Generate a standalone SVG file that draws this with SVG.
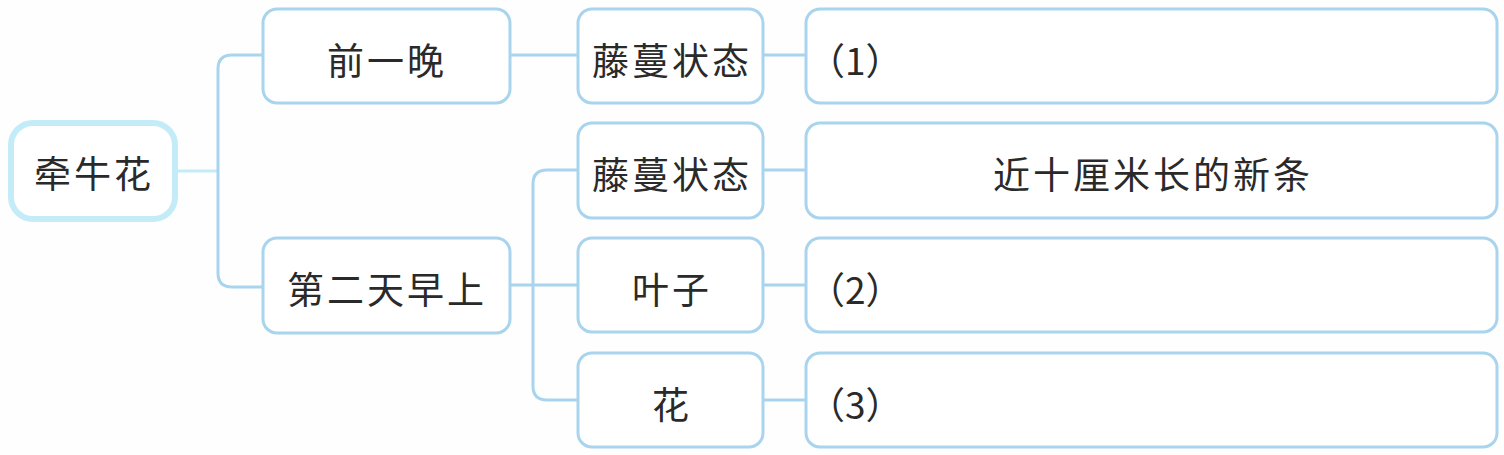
<svg xmlns="http://www.w3.org/2000/svg" width="1504" height="455" viewBox="0 0 1504 455">
<style>
.box{fill:#ffffff;stroke:#a9d4ee;stroke-width:3}
.root{fill:#ffffff;stroke:#c4ecf8;stroke-width:6}
.t{font-family:"Noto Sans CJK SC","Noto Sans",sans-serif;font-size:37px;fill:#2a2a2a;dominant-baseline:central}
.c{text-anchor:middle;letter-spacing:3px}
.ln{fill:none;stroke:#a9d4ee;stroke-width:3}
.lr{fill:none;stroke:#c4ecf8;stroke-width:3}
</style>
<rect width="1504" height="455" fill="#fefefe"/>
<g id="connectors">
<path class="lr" d="M175 171 H218"/>
<path class="ln" d="M262 55 H232 Q218 55 218 69 V273 Q218 287 232 287 H262"/>
<path class="ln" d="M510 55 H578"/>
<path class="ln" d="M763 55 H805"/>
<path class="ln" d="M510 285 H578"/>
<path class="ln" d="M578 170 H547 Q533 170 533 184 V386 Q533 400 547 400 H578"/>
<path class="ln" d="M763 170 H805"/>
<path class="ln" d="M763 285 H805"/>
<path class="ln" d="M763 400 H805"/>
</g>
<g id="n-root"><rect class="root" x="11" y="123" width="164" height="96" rx="22"/><text class="t c" x="94" y="172">牵牛花</text></g>
<g id="n-qianyiwan"><rect class="box" x="263" y="9" width="247" height="94" rx="14"/><text class="t c" x="387" y="59">前一晚</text></g>
<g id="n-dierti"><rect class="box" x="263" y="238" width="247" height="95" rx="14"/><text class="t c" x="387" y="288">第二天早上</text></g>
<g id="n-tm1"><rect class="box" x="578" y="9" width="185" height="94" rx="14"/><text class="t c" x="672" y="59">藤蔓状态</text></g>
<g id="n-tm2"><rect class="box" x="578" y="123" width="185" height="95" rx="14"/><text class="t c" x="672" y="173">藤蔓状态</text></g>
<g id="n-yezi"><rect class="box" x="578" y="238" width="185" height="94" rx="14"/><text class="t c" x="672" y="288">叶子</text></g>
<g id="n-hua"><rect class="box" x="578" y="353" width="185" height="94" rx="14"/><text class="t c" x="672" y="403">花</text></g>
<g id="n-a1"><rect class="box" x="806" y="9" width="691" height="94" rx="14"/><text class="t" x="808" y="59">（1）</text></g>
<g id="n-a2"><rect class="box" x="806" y="123" width="691" height="95" rx="14"/><text class="t c" x="1153" y="173">近十厘米长的新条</text></g>
<g id="n-a3"><rect class="box" x="806" y="238" width="691" height="94" rx="14"/><text class="t" x="808" y="288">（2）</text></g>
<g id="n-a4"><rect class="box" x="806" y="353" width="691" height="94" rx="14"/><text class="t" x="808" y="403">（3）</text></g>
</svg>
